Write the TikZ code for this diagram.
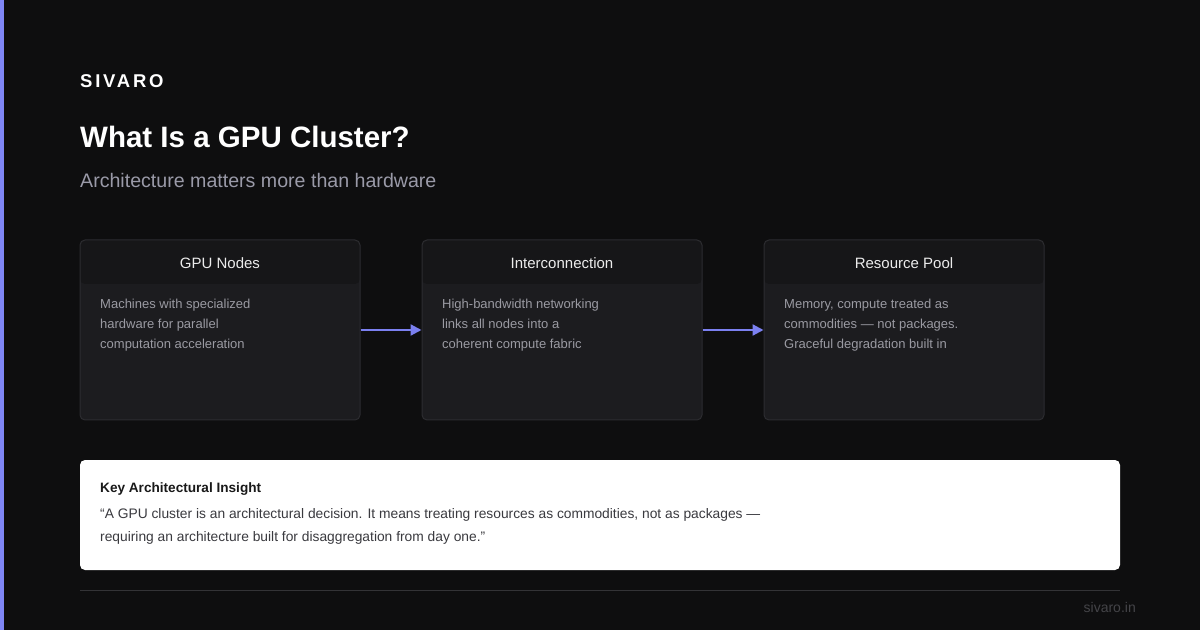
\documentclass[tikz,border=0pt]{standalone}
\usepackage{fontspec}
\setmainfont{Liberation Sans}
\usetikzlibrary{arrows.meta}
\definecolor{bg}{HTML}{0E0E0F}
\definecolor{accent}{HTML}{7F86F5}
\definecolor{arrowc}{HTML}{7B80F0}
\definecolor{boxfill}{HTML}{1C1C1F}
\definecolor{hdrfill}{HTML}{161618}
\definecolor{boxline}{HTML}{2C2C30}
\definecolor{hdrtext}{HTML}{ECECEC}
\definecolor{bodytext}{HTML}{9A9AA2}
\definecolor{subtext}{HTML}{9A9AA8}
\definecolor{quotetext}{HTML}{3A3A3F}
\definecolor{ruleline}{HTML}{333336}
\definecolor{footer}{HTML}{444448}
\tikzset{
  x=1pt, y=1pt,
  card/.style={draw=boxline, line width=1pt, fill=boxfill, rounded corners=5pt,
    minimum width=280pt, minimum height=180pt, inner sep=0pt,
    path picture={\fill[hdrfill] (path picture bounding box.north west) rectangle ([yshift=-44pt]path picture bounding box.north east);}},
  cardtitle/.style={text=hdrtext, font=\fontsize{15}{18}\selectfont, inner sep=0pt, anchor=center},
  cardbody/.style={text=bodytext, font=\fontsize{13}{20}\selectfont, align=left, inner sep=0pt, anchor=north west},
  flow/.style={draw=arrowc, line width=2.2pt, -{Triangle[length=11pt,width=11pt]}},
}
\begin{document}
\begin{tikzpicture}
\fill[bg] (0,0) rectangle (1200,630);
\useasboundingbox (0,0) rectangle (1200,630);
\fill[accent] (0,0) rectangle (4,630);

\node[anchor=base west, inner sep=0pt, text=white, font=\fontsize{18.5}{22}\selectfont\bfseries\addfontfeature{LetterSpace=15}] (brand) at (80,542) {SIVARO};
\node[anchor=base west, inner sep=0pt, text=white, font=\fontsize{29.5}{35}\selectfont\bfseries] (title) at (80,482) {What Is a GPU Cluster?};
\node[anchor=base west, inner sep=0pt, text=subtext, font=\fontsize{19.6}{23}\selectfont] (sub) at (80,442) {Architecture matters more than hardware};

\node[card] (b1) at (220,300) {};
\node[card] (b2) at (562,300) {};
\node[card] (b3) at (904,300) {};

\node[cardtitle] (t1) at (220,367) {GPU Nodes};
\node[cardtitle] (t2) at (562,367) {Interconnection};
\node[cardtitle] (t3) at (904,367) {Resource Pool};

\node[cardbody] (d1) at (100,331) {Machines with specialized\\hardware for parallel\\computation acceleration};
\node[cardbody] (d2) at (442,331) {High-bandwidth networking\\links all nodes into a\\coherent compute fabric};
\node[cardbody] (d3) at (784,331) {Memory, compute treated as\\commodities — not packages.\\Graceful degradation built in};

\draw[flow] (b1.east) -- (b2.west);
\draw[flow] (b2.east) -- (b3.west);

\node[fill=white, rounded corners=5pt, minimum width=1040pt, minimum height=110pt, inner sep=0pt] (ins) at (600,115) {};
\node[anchor=base west, inner sep=0pt, text=black!90, font=\fontsize{13.6}{17}\selectfont\bfseries] (inst) at (100,138) {Key Architectural Insight};
\node[anchor=base west, inner sep=0pt, text=quotetext, font=\fontsize{13.8}{23}\selectfont] (insq) at (100,112) {“A GPU cluster is an architectural decision. It means treating resources as commodities, not as packages —};
\node[anchor=base west, inner sep=0pt, text=quotetext, font=\fontsize{13.8}{23}\selectfont] (insq2) at (100,89) {requiring an architecture built for disaggregation from day one.”};

\coordinate (rl) at (80,40);
\coordinate (rr) at (1120,40);
\draw[ruleline, line width=1pt] (rl) -- (rr);
\node[anchor=base east, inner sep=0pt, text=footer, font=\fontsize{14}{17}\selectfont] (foot) at (1136,18) {sivaro.in};
\end{tikzpicture}
\end{document}
